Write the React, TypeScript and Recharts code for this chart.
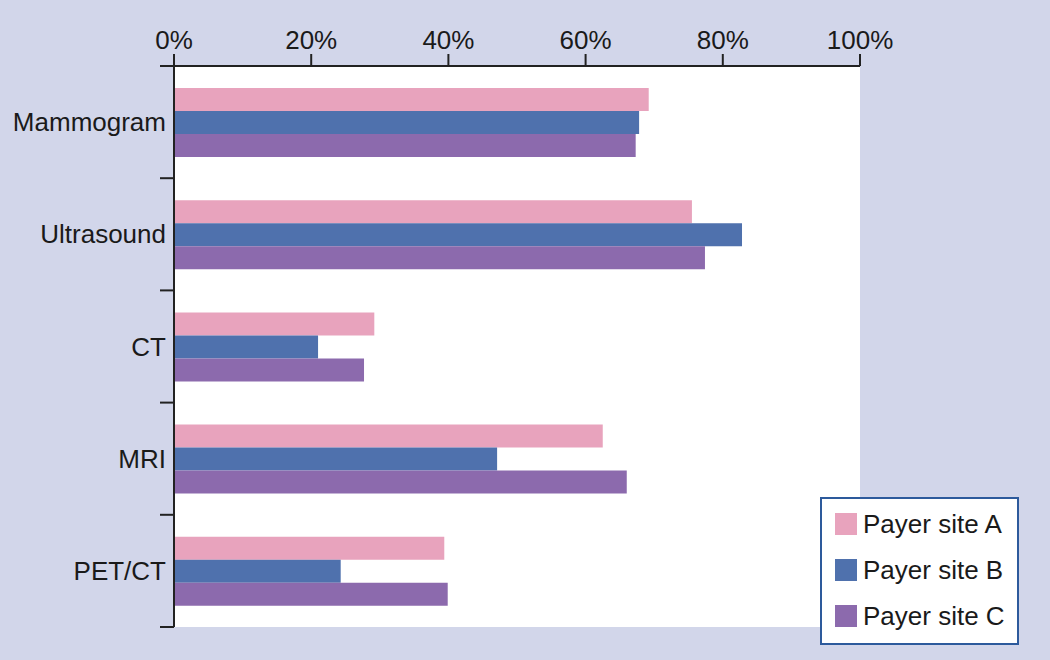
import React from "react";
import {
  BarChart,
  Bar,
  XAxis,
  YAxis,
  CartesianGrid,
  Legend,
} from "recharts";

const categories = ["Mammogram", "Ultrasound", "CT", "MRI", "PET/CT"];
const siteA = [69.2, 75.5, 29.2, 62.5, 39.4];
const siteB = [67.8, 82.8, 21.0, 47.1, 24.3];
const siteC = [67.3, 77.4, 27.7, 66.0, 39.9];
const xTicks = [0, 20, 40, 60, 80, 100];
const seriesNames = ["Payer site A", "Payer site B", "Payer site C"];

const COLORS = ["#e8a3bd", "#4f71ad", "#8c6aad"];
const FONT = "'Liberation Sans', Arial, Helvetica, sans-serif";
const AXIS = "#222";
const TICK_MARGIN = 8;
const TICK_LEN = 14;

const data = categories.map((name, i) => ({
  name,
  a: siteA[i],
  b: siteB[i],
  c: siteC[i],
}));

// category label at band centre, tick marks at band boundaries
function CategoryTick(props: any) {
  const { x, y, payload, index } = props;
  const half = payload && payload.offset ? payload.offset : 56;
  const axisX = x + TICK_MARGIN;
  const last = index === categories.length - 1;
  return (
    <g>
      <text
        x={x}
        y={y}
        textAnchor="end"
        dominantBaseline="central"
        fill="#1a1a1a"
        fontSize={26}
        fontFamily={FONT}
      >
        {payload.value}
      </text>
      <line x1={axisX - TICK_LEN} x2={axisX} y1={y - half} y2={y - half} stroke={AXIS} strokeWidth={2} />
      {last && (
        <line x1={axisX - TICK_LEN} x2={axisX} y1={y + half} y2={y + half} stroke={AXIS} strokeWidth={2} />
      )}
    </g>
  );
}

function LegendBox() {
  return (
    <div
      style={{
        width: 195,
        height: 144,
        background: "#fff",
        border: "2px solid #2d5a9c",
        boxSizing: "content-box",
        fontFamily: FONT,
      }}
    >
      {seriesNames.map((n, i) => (
        <div
          key={n}
          style={{
            display: "flex",
            alignItems: "center",
            height: 46,
            marginTop: i === 0 ? 2 : 0,
            paddingLeft: 13,
          }}
        >
          <div
            style={{
              width: 22,
              height: 22,
              background: COLORS[i],
              marginRight: 6,
            }}
          />
          <span style={{ fontSize: 26, color: "#1a1a1a" }}>{n}</span>
        </div>
      ))}
    </div>
  );
}

export default function App() {
  return (
    <div
      style={{
        position: "absolute",
        left: 0,
        top: 0,
        width: 1050,
        height: 660,
        background: "#d2d6ea",
        fontFamily: FONT,
      }}
    >
      <BarChart
        width={1050}
        height={660}
        data={data}
        layout="vertical"
        margin={{ top: 0, right: 190, bottom: 33, left: 0 }}
        barGap={0}
        barSize={23}
      >
        <CartesianGrid
          fill="#ffffff"
          stroke="none"
          horizontal={false}
          vertical={false}
        />
        <XAxis
          type="number"
          orientation="top"
          domain={[0, 100]}
          ticks={xTicks}
          tickFormatter={(v) => `${v}%`}
          height={66}
          tickSize={12}
          tickMargin={5}
          stroke={AXIS}
          strokeWidth={2}
          tick={{ fill: "#1a1a1a", fontSize: 26 }}
          interval={0}
        />
        <YAxis
          type="category"
          dataKey="name"
          width={174}
          tickLine={false}
          tickSize={0}
          tickMargin={TICK_MARGIN}
          stroke={AXIS}
          strokeWidth={2}
          tick={<CategoryTick />}
          interval={0}
        />
        <Legend
          layout="vertical"
          verticalAlign="middle"
          align="center"
          wrapperStyle={{ left: 820, top: 497, width: 199 }}
          content={() => <LegendBox />}
        />
        <Bar dataKey="a" name={seriesNames[0]} fill={COLORS[0]} isAnimationActive={false} />
        <Bar dataKey="b" name={seriesNames[1]} fill={COLORS[1]} isAnimationActive={false} />
        <Bar dataKey="c" name={seriesNames[2]} fill={COLORS[2]} isAnimationActive={false} />
      </BarChart>
    </div>
  );
}
